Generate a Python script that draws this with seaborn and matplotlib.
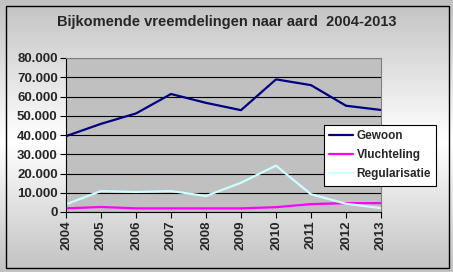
import numpy as np
import pandas as pd
import matplotlib
matplotlib.use("Agg")
import matplotlib.pyplot as plt
import matplotlib.ticker as mticker
import seaborn as sns

years = [2004, 2005, 2006, 2007, 2008, 2009, 2010, 2011, 2012, 2013]
gewoon = [39400, 45800, 51200, 61300, 56700, 52900, 68900, 65900, 55200, 53000]
vluchteling = [1900, 2600, 1900, 1900, 1900, 1900, 2500, 4100, 4600, 4600]
regularisatie = [4000, 10900, 10400, 10900, 8300, 15200, 24100, 9200, 4300, 2000]
series_names = ["Gewoon", "Vluchteling", "Regularisatie"]
title = "Bijkomende vreemdelingen naar aard  2004-2013"

df = pd.DataFrame({
    "jaar": years * 3,
    "waarde": gewoon + vluchteling + regularisatie,
    "aard": [series_names[0]] * 10 + [series_names[1]] * 10 + [series_names[2]] * 10,
})

sns.set_style("white")
plt.rcParams["font.family"] = ["Liberation Sans", "DejaVu Sans"]

W, H = 453, 272
fig = plt.figure(figsize=(W / 100, H / 100), dpi=100)

# background gradient
bg = fig.add_axes([0, 0, 1, 1], zorder=-10)
grad = np.concatenate([np.linspace(0.76, 1.0, 52), np.linspace(1.0, 0.76, 48)])
bg.imshow(np.dstack([grad, grad, grad]).reshape(100, 1, 3),
          aspect="auto", extent=[0, 1, 0, 1], origin="upper")
bg.set_xlim(0, 1); bg.set_ylim(0, 1)
bg.axis("off")
bg.add_patch(plt.Rectangle((5.5 / W, 1 - 267.5 / H), (449 - 5.5) / W, (267.5 - 5.5) / H,
                           fill=False, edgecolor="black", linewidth=1.0, transform=bg.transAxes))

left, right, top, bottom = 66, 381, 58, 212
ax = fig.add_axes([left / W, 1 - bottom / H, (right - left) / W, (bottom - top) / H])
ax.set_facecolor("#c0c0c0")

palette = {"Gewoon": "#000080", "Vluchteling": "#ff00ff", "Regularisatie": "#ccffff"}
sns.lineplot(data=df, x="jaar", y="waarde", hue="aard", palette=palette,
             linewidth=1.6, ax=ax, legend=True)

ax.set_xlim(2004, 2013)
ax.set_ylim(0, 80000)
ax.yaxis.set_major_locator(mticker.MultipleLocator(10000))
ax.yaxis.set_major_formatter(mticker.FuncFormatter(lambda v, p: f"{int(v):,}".replace(",", ".")))
ax.set_xticks(years)
ax.set_xticklabels([str(y) for y in years], rotation=90, fontsize=9.5, fontweight="bold")
for lab in ax.get_yticklabels():
    lab.set_fontsize(9.5)
    lab.set_fontweight("bold")
ax.grid(axis="y", color="black", linewidth=0.8)
ax.set_axisbelow(True)
ax.set_xlabel("")
ax.set_ylabel("")
ax.tick_params(axis="both", direction="out", length=4, width=0.8, color="black",
               left=True, bottom=True, pad=2)
for s in ["top", "right"]:
    ax.spines[s].set_color("#808080")
    ax.spines[s].set_linewidth(0.8)
for s in ["left", "bottom"]:
    ax.spines[s].set_color("black")
    ax.spines[s].set_linewidth(0.8)

leg = ax.legend(loc="upper left", bbox_to_anchor=((324 - left) / (right - left), 1 - (125 - top) / (bottom - top)),
                frameon=True, fancybox=False, framealpha=1, edgecolor="black",
                prop={"size": 8.5, "weight": "bold"}, handlelength=2.0, borderpad=0.45,
                labelspacing=0.6, handletextpad=0.3, borderaxespad=0)
leg.get_frame().set_linewidth(0.8)
for line in leg.get_lines():
    line.set_linewidth(1.6)

fig.text(0.5 * (5 + 449) / W, 1 - 22 / H, title, ha="center", va="center",
         fontsize=10.5, fontweight="bold")

fig.savefig("out.png", dpi=100)
